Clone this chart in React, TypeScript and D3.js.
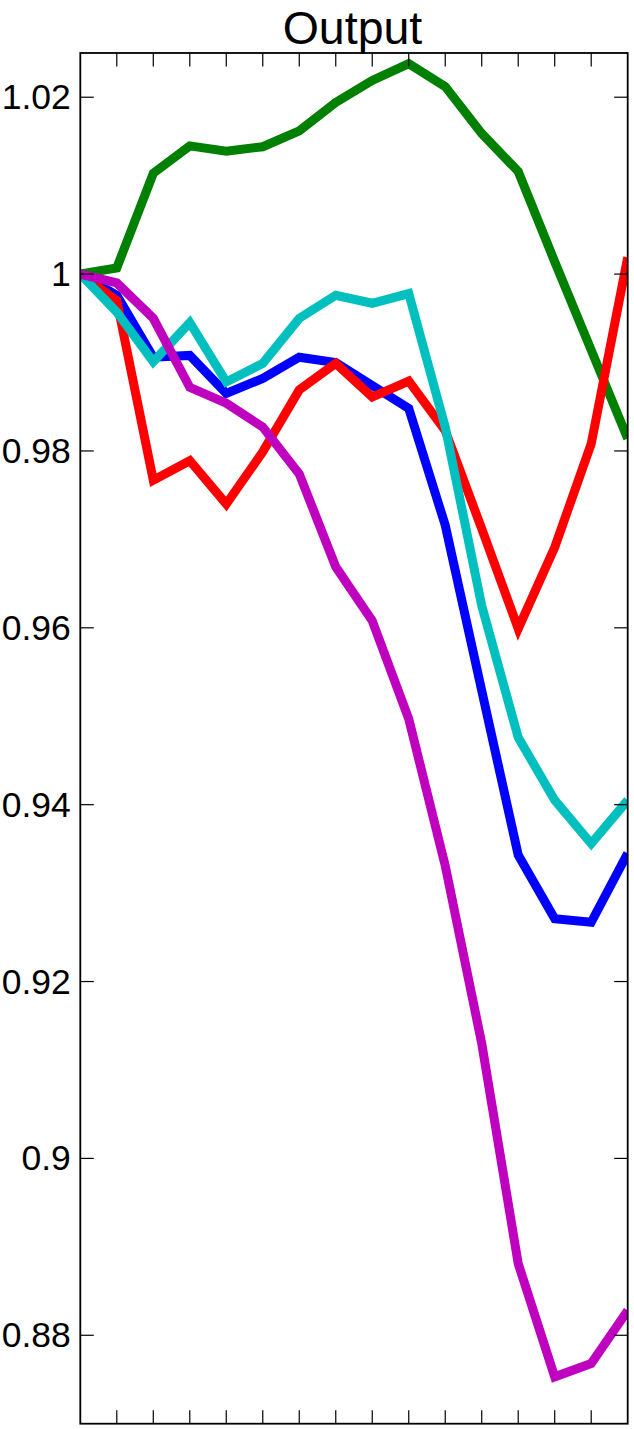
import React from "react";
import * as d3 from "d3";

const periods: number[] = [0, 1, 2, 3, 4, 5, 6, 7, 8, 9, 10, 11, 12, 13, 14, 15];

const seriesBlue: number[] = [1.0, 0.9976, 0.9906, 0.9908, 0.9865, 0.9882, 0.9906, 0.99, 0.9874, 0.9848, 0.9716, 0.9529, 0.9343, 0.9271, 0.9267, 0.9345];
const seriesGreen: number[] = [1.0, 1.0007, 1.0114, 1.0145, 1.0139, 1.0144, 1.0162, 1.0194, 1.0219, 1.0238, 1.0212, 1.0159, 1.0116, 1.0014, 0.9914, 0.9814];
const seriesRed: number[] = [1.0, 0.997, 0.9767, 0.9789, 0.974, 0.9799, 0.9869, 0.9899, 0.9861, 0.9879, 0.9823, 0.9712, 0.9599, 0.9691, 0.9808, 1.0019];
const seriesCyan: number[] = [1.0, 0.9957, 0.9901, 0.9945, 0.9878, 0.9899, 0.995, 0.9976, 0.9967, 0.9978, 0.9827, 0.9625, 0.9476, 0.9405, 0.9356, 0.9405];
const seriesMagenta: number[] = [1.0, 0.999, 0.995, 0.9872, 0.9854, 0.9827, 0.9774, 0.9669, 0.9608, 0.9497, 0.9331, 0.913, 0.8881, 0.8753, 0.8768, 0.8828];

const seriesColors: string[] = ["#0000ff", "#008000", "#ff0000", "#00bfbf", "#bf00bf"];

const yTickValues: number[] = [0.88, 0.9, 0.92, 0.94, 0.96, 0.98, 1.0, 1.02];
const yTickLabels: string[] = ["0.88", "0.9", "0.92", "0.94", "0.96", "0.98", "1", "1.02"];
const xTickValues: number[] = [1, 2, 3, 4, 5, 6, 7, 8, 9, 10, 11, 12, 13, 14];

const titleText = "Output";

export default function App() {
  const W = 634;
  const H = 1429;
  const left = 80.3;
  const right = 627.7;
  const top = 53;
  const bottom = 1423.7;

  const x = d3.scaleLinear().domain([0, 15]).range([left, right]);
  const y = d3.scaleLinear().domain([0.87, 1.025]).range([bottom, top]);

  const line = d3
    .line<number>()
    .x((_, i) => x(periods[i]))
    .y((d) => y(d));

  const allSeries = [seriesBlue, seriesGreen, seriesRed, seriesCyan, seriesMagenta];
  const font = "'Liberation Sans', Arial, Helvetica, sans-serif";
  const tickLen = 13.5;

  return (
    <svg
      width={W}
      height={H}
      style={{ position: "absolute", left: 0, top: 0, background: "#fff" }}
    >
      <defs>
        <clipPath id="plotClip">
          <rect x={left} y={top} width={right - left} height={bottom - top} />
        </clipPath>
      </defs>
      <rect x={0} y={0} width={W} height={H} fill="#fff" />
      <g clipPath="url(#plotClip)">
        {allSeries.map((s, k) => (
          <path
            key={k}
            d={line(s) || ""}
            fill="none"
            stroke={seriesColors[k]}
            strokeWidth={9}
            strokeLinejoin="miter"
          />
        ))}
      </g>
      {xTickValues.map((v) => (
        <g key={"xt" + v}>
          <line x1={x(v)} x2={x(v)} y1={top} y2={top + tickLen} stroke="#000" strokeWidth={1.2} />
          <line x1={x(v)} x2={x(v)} y1={bottom} y2={bottom - tickLen} stroke="#000" strokeWidth={1.2} />
        </g>
      ))}
      {yTickValues.map((v, i) => (
        <g key={"yt" + i}>
          <line x1={left} x2={left + tickLen} y1={y(v)} y2={y(v)} stroke="#000" strokeWidth={1.2} />
          <line x1={right} x2={right - tickLen} y1={y(v)} y2={y(v)} stroke="#000" strokeWidth={1.2} />
          <text
            x={left - 9.5}
            y={y(v)}
            textAnchor="end"
            dominantBaseline="central"
            fontFamily={font}
            fontSize={35.5}
            fill="#000"
          >
            {yTickLabels[i]}
          </text>
        </g>
      ))}
      <rect
        x={left}
        y={top}
        width={right - left}
        height={bottom - top}
        fill="none"
        stroke="#000"
        strokeWidth={1.8}
      />
      <text
        x={352.5}
        y={43.5}
        textAnchor="middle"
        fontFamily={font}
        fontSize={46.5}
        fill="#000"
      >
        {titleText}
      </text>
    </svg>
  );
}
